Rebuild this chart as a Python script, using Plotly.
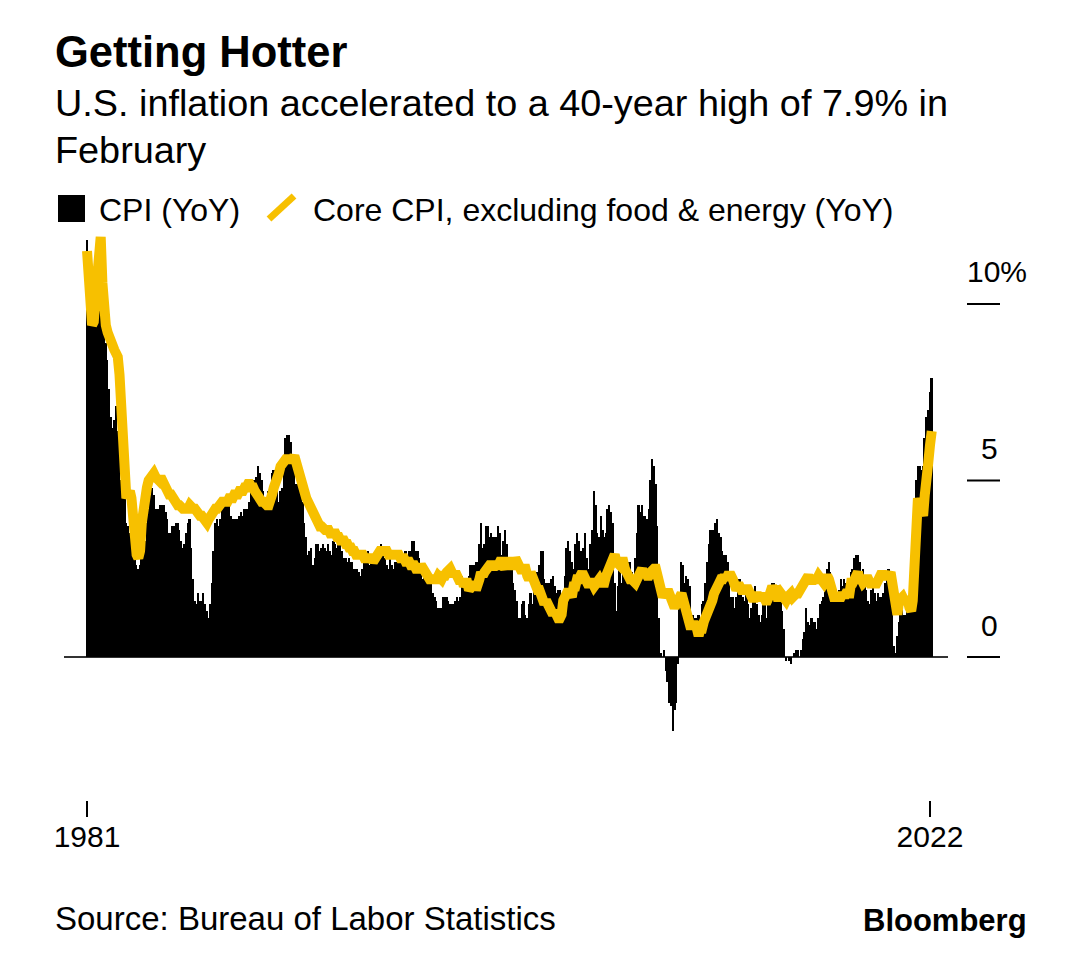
import pandas as pd
import plotly.graph_objects as go

# monthly CPI YoY %, Jan 1981 - Feb 2022 (one row per year)
cpi_yoy = [
    11.8, 11.4, 10.5, 10.0, 9.8, 9.6, 10.8, 10.8, 11.0, 10.1, 9.6, 8.9,
    8.4, 7.6, 6.8, 6.5, 6.7, 7.1, 6.4, 5.9, 5.0, 5.1, 4.6, 3.8,
    3.7, 3.5, 3.6, 3.9, 3.5, 2.6, 2.5, 2.6, 2.9, 2.9, 3.3, 3.8,
    4.2, 4.6, 4.8, 4.6, 4.2, 4.2, 4.2, 4.3, 4.3, 4.3, 4.1, 3.9,
    3.5, 3.5, 3.7, 3.7, 3.8, 3.8, 3.6, 3.3, 3.1, 3.2, 3.5, 3.8,
    3.9, 3.1, 2.2, 1.6, 1.5, 1.8, 1.6, 1.6, 1.8, 1.5, 1.3, 1.1,
    1.5, 2.1, 3.0, 3.8, 3.9, 3.7, 3.9, 4.3, 4.4, 4.5, 4.5, 4.4,
    4.0, 3.9, 3.9, 3.9, 3.9, 4.0, 4.1, 4.0, 4.2, 4.2, 4.2, 4.4,
    4.7, 4.8, 5.0, 5.1, 5.4, 5.2, 5.0, 4.7, 4.3, 4.5, 4.7, 4.6,
    5.2, 5.3, 5.2, 4.7, 4.4, 4.7, 4.8, 5.6, 6.2, 6.3, 6.3, 6.1,
    5.7, 5.3, 4.9, 4.9, 5.0, 4.7, 4.4, 3.8, 3.4, 2.9, 3.0, 3.1,
    2.6, 2.8, 3.2, 3.2, 3.0, 3.1, 3.2, 3.1, 3.0, 3.2, 3.0, 2.9,
    3.3, 3.2, 3.1, 3.2, 3.2, 3.0, 2.8, 2.8, 2.7, 2.8, 2.7, 2.7,
    2.5, 2.5, 2.5, 2.4, 2.3, 2.5, 2.8, 2.9, 3.0, 2.6, 2.7, 2.7,
    2.8, 2.9, 2.9, 3.1, 3.2, 3.0, 2.8, 2.6, 2.5, 2.8, 2.6, 2.5,
    2.7, 2.7, 2.8, 2.9, 2.9, 2.8, 3.0, 2.9, 3.0, 3.0, 3.3, 3.3,
    3.0, 3.0, 2.8, 2.5, 2.2, 2.3, 2.2, 2.2, 2.2, 2.1, 1.8, 1.7,
    1.6, 1.4, 1.4, 1.4, 1.7, 1.7, 1.7, 1.6, 1.5, 1.5, 1.5, 1.6,
    1.7, 1.6, 1.7, 2.3, 2.1, 2.0, 2.1, 2.3, 2.6, 2.6, 2.6, 2.7,
    2.7, 3.2, 3.8, 3.1, 3.2, 3.7, 3.7, 3.4, 3.5, 3.4, 3.4, 3.4,
    3.7, 3.5, 2.9, 3.3, 3.6, 3.2, 2.7, 2.7, 2.6, 2.1, 1.9, 1.6,
    1.1, 1.1, 1.5, 1.6, 1.2, 1.1, 1.5, 1.8, 1.5, 2.0, 2.2, 2.4,
    2.6, 3.0, 3.0, 2.2, 2.1, 2.1, 2.1, 2.2, 2.3, 2.0, 1.8, 1.9,
    1.9, 1.7, 1.7, 2.3, 3.1, 3.3, 3.0, 2.7, 2.5, 3.2, 3.5, 3.3,
    3.0, 3.0, 3.1, 3.5, 2.8, 2.5, 3.2, 3.6, 4.7, 4.3, 3.5, 3.4,
    4.0, 3.6, 3.4, 3.5, 4.2, 4.3, 4.1, 3.8, 2.1, 1.3, 2.0, 2.5,
    2.1, 2.4, 2.8, 2.6, 2.7, 2.7, 2.4, 2.0, 2.8, 3.5, 4.3, 4.1,
    4.3, 4.0, 4.0, 3.9, 4.2, 5.0, 5.6, 5.4, 4.9, 3.7, 1.1, 0.1,
    0.0, 0.2, -0.4, -0.7, -1.3, -1.4, -2.1, -1.5, -1.3, -0.2, 1.8, 2.7,
    2.6, 2.1, 2.3, 2.2, 2.0, 1.1, 1.2, 1.1, 1.1, 1.2, 1.1, 1.5,
    1.6, 2.1, 2.7, 3.2, 3.6, 3.6, 3.6, 3.8, 3.9, 3.5, 3.4, 3.0,
    2.9, 2.9, 2.7, 2.3, 1.7, 1.7, 1.4, 1.7, 2.0, 2.2, 1.8, 1.7,
    1.6, 2.0, 1.5, 1.1, 1.4, 1.8, 2.0, 1.5, 1.2, 1.0, 1.2, 1.5,
    1.6, 1.1, 1.5, 2.0, 2.1, 2.1, 2.0, 1.7, 1.7, 1.7, 1.3, 0.8,
    -0.1, 0.0, -0.1, -0.2, 0.0, 0.1, 0.2, 0.2, 0.0, 0.2, 0.5, 0.7,
    1.4, 1.0, 0.9, 1.1, 1.0, 1.0, 0.8, 1.1, 1.5, 1.6, 1.7, 2.1,
    2.5, 2.7, 2.4, 2.2, 1.9, 1.6, 1.7, 1.9, 2.2, 2.0, 2.2, 2.1,
    2.1, 2.2, 2.4, 2.5, 2.8, 2.9, 2.9, 2.7, 2.3, 2.5, 2.2, 1.9,
    1.6, 1.5, 1.9, 2.0, 1.8, 1.6, 1.8, 1.7, 1.7, 1.8, 2.1, 2.3,
    2.5, 2.3, 1.5, 0.3, 0.1, 0.6, 1.0, 1.3, 1.4, 1.2, 1.2, 1.4,
    1.4, 1.7, 2.6, 4.2, 5.0, 5.4, 5.4, 5.3, 5.4, 6.2, 6.8, 7.0,
    7.5, 7.9,
]

# monthly core CPI (ex food & energy) YoY %, same months
core_yoy = [
    11.5, 10.8, 10.0, 9.4, 9.5, 10.2, 11.0, 11.7, 11.9, 10.6, 9.6, 9.4,
    9.2, 9.0, 8.8, 8.7, 8.7, 8.6, 8.5, 8.0, 6.6, 5.5, 4.7, 4.5,
    4.6, 4.7, 4.5, 3.8, 3.3, 2.9, 2.8, 3.0, 3.8, 4.4, 4.7, 4.8,
    5.0, 5.1, 5.2, 5.2, 5.1, 5.0, 5.0, 5.1, 5.0, 4.8, 4.8, 4.7,
    4.6, 4.6, 4.5, 4.4, 4.4, 4.3, 4.3, 4.2, 4.2, 4.2, 4.2, 4.2,
    4.3, 4.2, 4.2, 4.2, 4.1, 4.1, 4.0, 4.0, 3.9, 3.9, 3.8, 3.9,
    4.0, 4.1, 4.1, 4.2, 4.2, 4.3, 4.3, 4.4, 4.4, 4.4, 4.4, 4.5,
    4.5, 4.5, 4.6, 4.6, 4.6, 4.7, 4.7, 4.7, 4.8, 4.8, 4.9, 4.9,
    4.8, 4.8, 4.7, 4.6, 4.5, 4.5, 4.4, 4.4, 4.3, 4.3, 4.3, 4.4,
    4.6, 4.8, 4.9, 5.0, 5.2, 5.4, 5.5, 5.5, 5.6, 5.6, 5.6, 5.6,
    5.6, 5.7, 5.5, 5.3, 5.1, 5.0, 4.8, 4.6, 4.5, 4.4, 4.3, 4.1,
    4.0, 3.9, 3.8, 3.8, 3.7, 3.7, 3.6, 3.6, 3.6, 3.6, 3.5, 3.5,
    3.5, 3.5, 3.4, 3.4, 3.3, 3.3, 3.3, 3.2, 3.2, 3.1, 3.1, 3.0,
    3.0, 2.9, 2.9, 2.9, 2.9, 2.9, 2.8, 2.8, 2.8, 2.8, 2.8, 2.7,
    2.8, 2.9, 3.0, 3.0, 3.0, 3.0, 3.0, 3.0, 2.9, 2.9, 2.9, 2.9,
    2.9, 2.9, 2.9, 2.8, 2.8, 2.8, 2.7, 2.7, 2.7, 2.6, 2.6, 2.6,
    2.5, 2.5, 2.5, 2.6, 2.5, 2.4, 2.3, 2.3, 2.2, 2.2, 2.2, 2.2,
    2.2, 2.3, 2.2, 2.2, 2.3, 2.3, 2.4, 2.5, 2.5, 2.4, 2.3, 2.4,
    2.3, 2.1, 2.1, 2.2, 2.0, 2.1, 2.1, 1.9, 2.0, 2.1, 2.1, 1.9,
    2.0, 2.2, 2.4, 2.3, 2.4, 2.5, 2.5, 2.6, 2.6, 2.5, 2.6, 2.6,
    2.6, 2.7, 2.7, 2.6, 2.5, 2.7, 2.7, 2.7, 2.6, 2.6, 2.8, 2.7,
    2.6, 2.6, 2.4, 2.5, 2.5, 2.3, 2.2, 2.4, 2.2, 2.2, 2.0, 1.9,
    1.9, 1.7, 1.7, 1.5, 1.6, 1.5, 1.5, 1.3, 1.2, 1.3, 1.1, 1.1,
    1.1, 1.2, 1.6, 1.8, 1.7, 1.9, 1.8, 1.7, 2.0, 2.0, 2.2, 2.2,
    2.3, 2.4, 2.3, 2.2, 2.2, 2.0, 2.1, 2.1, 2.0, 2.1, 2.1, 2.2,
    2.1, 2.1, 2.1, 2.3, 2.4, 2.6, 2.7, 2.8, 2.9, 2.7, 2.6, 2.6,
    2.7, 2.7, 2.5, 2.3, 2.2, 2.2, 2.2, 2.1, 2.1, 2.2, 2.3, 2.4,
    2.5, 2.3, 2.4, 2.3, 2.3, 2.4, 2.5, 2.5, 2.5, 2.2, 2.0, 1.8,
    1.7, 1.8, 1.8, 1.9, 1.8, 1.7, 1.5, 1.4, 1.5, 1.7, 1.7, 1.8,
    1.6, 1.3, 1.1, 0.9, 0.9, 0.9, 0.9, 0.9, 0.8, 0.6, 0.8, 0.8,
    1.0, 1.1, 1.2, 1.3, 1.5, 1.6, 1.8, 2.0, 2.0, 2.1, 2.2, 2.2,
    2.3, 2.2, 2.3, 2.3, 2.3, 2.2, 2.1, 1.9, 2.0, 2.0, 1.9, 1.9,
    1.9, 2.0, 1.9, 1.7, 1.7, 1.6, 1.7, 1.8, 1.7, 1.7, 1.7, 1.7,
    1.6, 1.6, 1.7, 1.8, 2.0, 1.9, 1.9, 1.7, 1.7, 1.8, 1.7, 1.6,
    1.6, 1.7, 1.8, 1.8, 1.7, 1.8, 1.8, 1.8, 1.9, 1.9, 2.0, 2.1,
    2.2, 2.3, 2.2, 2.1, 2.2, 2.2, 2.2, 2.3, 2.2, 2.1, 2.1, 2.2,
    2.3, 2.2, 2.0, 1.9, 1.7, 1.7, 1.7, 1.7, 1.7, 1.8, 1.7, 1.8,
    1.8, 1.8, 2.1, 2.1, 2.2, 2.3, 2.4, 2.2, 2.2, 2.1, 2.2, 2.2,
    2.2, 2.1, 2.0, 2.1, 2.0, 2.1, 2.2, 2.4, 2.4, 2.3, 2.3, 2.3,
    2.3, 2.4, 2.1, 1.4, 1.2, 1.2, 1.6, 1.7, 1.7, 1.6, 1.6, 1.6,
    1.4, 1.3, 1.6, 3.0, 3.8, 4.5, 4.3, 4.0, 4.0, 4.6, 4.9, 5.5,
    6.0, 6.4,
]

first_month = '1981-01-01'
x_tick_vals = ['1981-01-01', '2022-01-01']
x_tick_text = ['1981', '2022']
y_tick_vals = [0, 5, 10]
y_tick_text = ['0', '5', '10%']

months = pd.date_range(first_month, periods=len(cpi_yoy), freq='MS')

#%% layout helpers
# the page body has an 8px margin, so the figure is drawn 8px in from the
# window corner; positions below are measured in window pixels
W, H = 1078 - 16, 980 - 16
BOX_L, BOX_R, BOX_T, BOX_B = 64, 948, 233, 800   # plot area in window px
PW, PH = BOX_R - BOX_L, BOX_B - BOX_T
FONT = 'Liberation Sans, Arial, sans-serif'
YELLOW = '#F7C000'


def px(x):
    return (x - BOX_L) / PW


def py(y):
    return (BOX_B - y) / PH


#%% figure
fig = go.Figure()
fig.add_trace(go.Bar(x=months, y=cpi_yoy, name='CPI (YoY)',
                     marker=dict(color='black', line=dict(width=0)),
                     width=31 * 24 * 3600 * 1000))
fig.add_trace(go.Scatter(x=months, y=core_yoy, mode='lines',
                         name='Core CPI, excluding food & energy (YoY)',
                         line=dict(color=YELLOW, width=10)))

fig.update_layout(
    width=W, height=H,
    margin=dict(l=BOX_L - 8, r=W - (BOX_R - 8), t=BOX_T - 8,
                b=H - (BOX_B - 8), pad=0),
    paper_bgcolor='white', plot_bgcolor='white',
    showlegend=False, bargap=0,
    font=dict(family=FONT, color='black'),
)
fig.update_xaxes(range=['1979-11-19', '2022-11-17'], tickvals=x_tick_vals,
                 ticktext=x_tick_text, ticks='outside', ticklen=16, tickwidth=2,
                 tickcolor='black', showgrid=False, showline=False,
                 zeroline=False, tickfont=dict(size=30), ticklabelstandoff=-6)
fig.update_yaxes(range=[-4.05, 12.01], showticklabels=False, showgrid=False,
                 zeroline=True, zerolinecolor='#333333', zerolinewidth=2)

# right-hand tick marks with labels sitting on top of them
for v, t in zip(y_tick_vals, y_tick_text):
    fig.add_shape(type='line', xref='paper', yref='y', x0=px(967), x1=px(1000),
                  y0=v, y1=v, line=dict(color='black', width=2))
    fig.add_annotation(xref='paper', yref='y', x=px(1000 if t != '10%' else 1029),
                       y=v, yshift=32, text=t, showarrow=False, xanchor='right',
                       yanchor='middle', font=dict(size=30))

# title block
fig.add_annotation(xref='paper', yref='paper', x=px(53), y=py(52),
                   text='<b>Getting Hotter</b>', showarrow=False,
                   xanchor='left', yanchor='middle', font=dict(size=43.5))
fig.add_annotation(xref='paper', yref='paper', x=px(53), y=py(103),
                   text='U.S. inflation accelerated to a 40-year high of 7.9% in',
                   showarrow=False, xanchor='left', yanchor='middle',
                   font=dict(size=37.8))
fig.add_annotation(xref='paper', yref='paper', x=px(53), y=py(150),
                   text='February', showarrow=False, xanchor='left',
                   yanchor='middle', font=dict(size=37.8))

# hand-made legend
fig.add_shape(type='rect', xref='paper', yref='paper', x0=px(58), x1=px(85),
              y0=py(222), y1=py(195), fillcolor='black', line=dict(width=0))
fig.add_annotation(xref='paper', yref='paper', x=px(97), y=py(210),
                   text='CPI (YoY)', showarrow=False, xanchor='left',
                   yanchor='middle', font=dict(size=32))
fig.add_shape(type='line', xref='paper', yref='paper', x0=px(269), x1=px(294),
              y0=py(219), y1=py(196), line=dict(color=YELLOW, width=7))
fig.add_annotation(xref='paper', yref='paper', x=px(311), y=py(210),
                   text='Core CPI, excluding food & energy (YoY)',
                   showarrow=False, xanchor='left', yanchor='middle',
                   font=dict(size=32))

# footer
fig.add_annotation(xref='paper', yref='paper', x=px(53), y=py(918),
                   text='Source: Bureau of Labor Statistics', showarrow=False,
                   xanchor='left', yanchor='middle', font=dict(size=33))
fig.add_annotation(xref='paper', yref='paper', x=px(1029), y=py(920),
                   text='<b>Bloomberg</b>', showarrow=False, xanchor='right',
                   yanchor='middle', font=dict(size=31))

fig.write_html('out.html')
